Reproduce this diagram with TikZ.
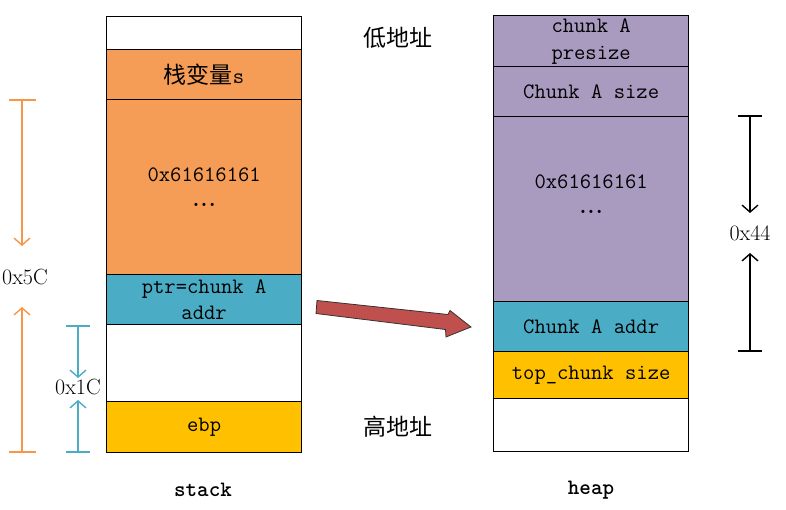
\documentclass[tikz,border=0pt]{standalone}
\usepackage{fontspec}
\newfontfamily\cjk{Noto Sans CJK SC}
\usetikzlibrary{arrows.meta}
\definecolor{corange}{HTML}{F59D56}
\definecolor{cblue}{HTML}{4BACC6}
\definecolor{cpurple}{HTML}{A99AC0}
\definecolor{cyellow}{HTML}{FFC000}
\definecolor{carrow}{HTML}{C0504D}
\definecolor{dimorange}{HTML}{F79646}
\definecolor{dimblue}{HTML}{4BACC6}
\tikzset{
  cell/.style={draw=black, line width=1.3pt, rectangle, minimum width=195pt, anchor=north west,
    inner sep=0pt, align=center, font=\fontsize{22}{26}\selectfont\ttfamily},
  dimlbl/.style={font=\fontsize{22}{24}\selectfont\rmfamily, inner sep=0pt},
  dimline/.style={line width=1.4pt, -{Straight Barb[length=7pt,width=16pt,line width=1.4pt]}},
  dimbar/.style={line width=1.4pt},
  cjklbl/.style={font=\fontsize{23}{24}\selectfont\cjk, inner sep=0pt},
  collbl/.style={font=\fontsize{22}{24}\selectfont\ttfamily\bfseries, inner sep=0pt},
}
\newcommand{\dotsrow}{{\rmfamily\fontsize{22}{18}\selectfont\textbf{.\kern1.2pt.\kern1.2pt.}}}
\begin{document}
\begin{tikzpicture}[x=1pt,y=-1pt]
\useasboundingbox (0,0) rectangle (786,509);
% stack column
\node[cell, fill=white, minimum height=33pt] (s0) at (106,16) {};
\node[cell, fill=corange, minimum height=50pt] (s1) at (106,49) {{\cjk\fontsize{23}{24}\selectfont 栈变量}s};
\node[cell, fill=corange, minimum height=175pt] (s2) at (106,99) {0x61616161\\[-1pt]\dotsrow};
\node[cell, fill=cblue, minimum height=50pt] (s3) at (106,274) {ptr=chunk A\\[0pt]addr};
\node[cell, fill=white, minimum height=77pt] (s4) at (106,324) {};
\node[cell, fill=cyellow, minimum height=51pt] (s5) at (106,401) {ebp};
% heap column
\node[cell, fill=cpurple, minimum height=51pt] (h0) at (493,15) {chunk A\\[1pt]presize};
\node[cell, fill=cpurple, minimum height=50pt] (h1) at (493,66) {Chunk A size};
\node[cell, fill=cpurple, minimum height=185pt] (h2) at (493,116) {0x61616161\\[-1pt]\dotsrow\\[4pt]};
\node[cell, fill=cblue, minimum height=50pt] (h3) at (493,301) {Chunk A addr};
\node[cell, fill=cyellow, minimum height=47pt] (h4) at (493,351) {top\_chunk size};
\node[cell, fill=white, minimum height=53pt] (h5) at (493,398) {};
% labels
\node[cjklbl] (low) at (398,38) {低地址};
\node[cjklbl] (high) at (398,427) {高地址};
\node[collbl] (stk) at (203,490) {stack};
\node[collbl] (hp) at (591,490) {heap};
% orange dimension 0x5C
\node[dimlbl] (l5c) at (25,277) {0x5C};
\coordinate (o1) at (22,100);
\coordinate (o1e) at (22,246);
\coordinate (o2) at (22,452);
\coordinate (o2e) at (22,307);
\draw[dimbar, dimorange] (9,100) -- (36,100);
\draw[dimbar, dimorange] (9,452) -- (36,452);
\draw[dimline, dimorange] (o1) -- (o1e);
\draw[dimline, dimorange] (o2) -- (o2e);
% blue dimension 0x1C
\node[dimlbl] (l1c) at (78,387) {0x1C};
\coordinate (b1) at (78,326);
\coordinate (b1e) at (78,378);
\coordinate (b2) at (78,452);
\coordinate (b2e) at (78,400);
\draw[dimbar, dimblue] (66,326) -- (90,326);
\draw[dimbar, dimblue] (66,452) -- (90,452);
\draw[dimline, dimblue] (b1) -- (b1e);
\draw[dimline, dimblue] (b2) -- (b2e);
% black dimension 0x44
\node[dimlbl] (l44) at (750,233) {0x44};
\coordinate (k1) at (750,116);
\coordinate (k1e) at (750,213);
\coordinate (k2) at (750,351);
\coordinate (k2e) at (750,253);
\draw[dimbar, black] (738,116) -- (762,116);
\draw[dimbar, black] (738,351) -- (762,351);
\draw[dimline, black] (k1) -- (k1e);
\draw[dimline, black] (k2) -- (k2e);
% red block arrow
\filldraw[fill=carrow, draw=black!80, line width=0.8pt, line join=miter]
  (317,300.5) -- (448,314.5) -- (450,310.5) -- (471,327) -- (446,337) -- (445.5,329.5) -- (316,313.5) -- cycle;
\end{tikzpicture}
\end{document}
